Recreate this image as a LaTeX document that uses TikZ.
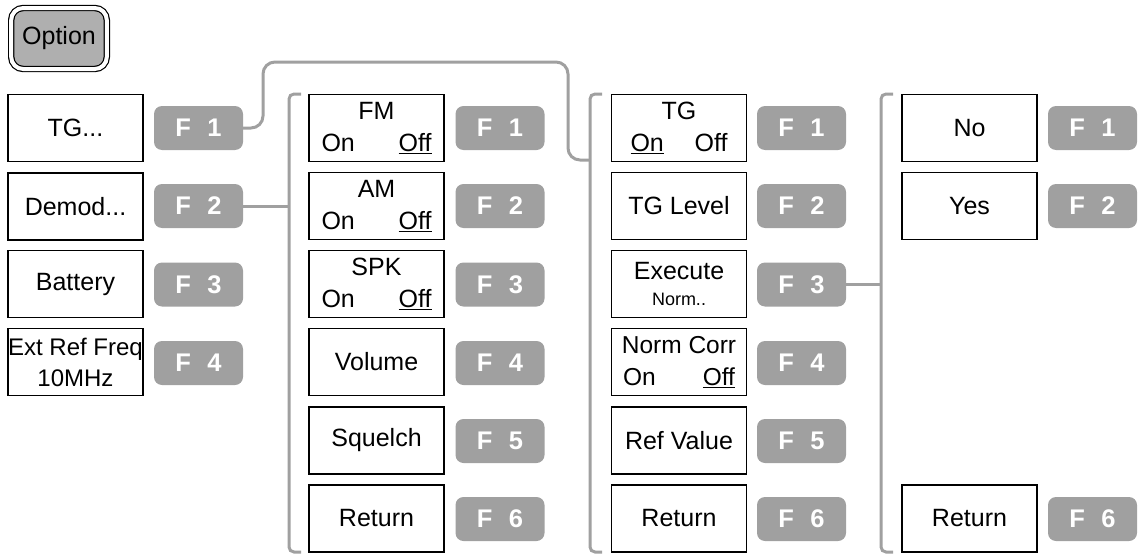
\documentclass[tikz,border=0pt]{standalone}
\usepackage{fontspec}
\setmainfont{Liberation Sans}
\definecolor{cgray}{RGB}{160,160,160}
\definecolor{optgray}{RGB}{175,175,175}
\tikzset{
  mbox/.style={draw=black, line width=1.3pt, minimum width=135pt, minimum height=67pt, inner sep=0pt, align=center, font=\fontsize{25}{32}\selectfont},
  fkey/.style={fill=cgray, rounded corners=8pt, minimum width=89pt, minimum height=44pt, inner sep=0pt, text=white, font=\fontsize{25.5}{28}\selectfont\bfseries},
  conn/.style={draw=cgray, line width=3pt, rounded corners=12pt},
  brk/.style={draw=cgray, line width=3pt, rounded corners=5pt},
}
\newcommand{\onoff}[2][110pt]{\makebox[#1]{#2}}
\newcommand{\fk}[1]{F\hspace{0.65em}#1}
\begin{document}
\begin{tikzpicture}[x=1pt,y=-1pt]
\useasboundingbox (0,0) rectangle (1138,554);
% Option key
\node[draw=black, line width=1.2pt, double=white, double distance=4pt, fill=optgray, rounded corners=12pt, minimum width=95.6pt, minimum height=61pt, inner sep=0pt, font=\fontsize{25}{28}\selectfont] (opt) at (59,38.5) {Option};
% column 1
\node[mbox] (a1) at (75.5,128) {TG...};
\node[mbox] (a2) at (75.5,206.5) {Demod...};
\node[mbox] (a3) at (75.5,284) {Battery};
\node[mbox, font=\fontsize{24}{31}\selectfont] (a4) at (75.5,362) {Ext Ref Freq\\10MHz};
\node[fkey] (fa1) at (198.5,128) {\fk{1}};
\node[fkey] (fa2) at (198.5,206) {\fk{2}};
\node[fkey] (fa3) at (198.5,284.5) {\fk{3}};
\node[fkey] (fa4) at (198.5,363) {\fk{4}};
% column 2
\node[mbox] (b1) at (376.5,128) {FM\\\onoff{On\hfill\underline{Off}}};
\node[mbox] (b2) at (376.5,206) {AM\\\onoff{On\hfill\underline{Off}}};
\node[mbox] (b3) at (376.5,284) {SPK\\\onoff{On\hfill\underline{Off}}};
\node[mbox] (b4) at (376.5,362) {Volume};
\node[mbox] (b5) at (376.5,440.5) {Squelch};
\node[mbox] (b6) at (376.5,518.5) {Return};
\node[fkey] (fb1) at (500,128) {\fk{1}};
\node[fkey] (fb2) at (500,206) {\fk{2}};
\node[fkey] (fb3) at (500,284.5) {\fk{3}};
\node[fkey] (fb4) at (500,363) {\fk{4}};
\node[fkey] (fb5) at (500,441) {\fk{5}};
\node[fkey] (fb6) at (500,519) {\fk{6}};
% column 3
\node[mbox] (c1) at (679,128) {TG\\\onoff[97pt]{\underline{On}\hfill Off}};
\node[mbox] (c2) at (679,206) {TG Level};
\node[mbox] (c3) at (679,284) {Execute\\[-6pt]{\fontsize{18}{22}\selectfont Norm..}};
\node[mbox, font=\fontsize{24.5}{32}\selectfont] (c4) at (679,362) {Norm Corr\\\onoff[112pt]{On\hfill\underline{Off}}};
\node[mbox] (c5) at (679,440.5) {Ref Value};
\node[mbox] (c6) at (679,518.5) {Return};
\node[fkey] (fc1) at (801.5,128) {\fk{1}};
\node[fkey] (fc2) at (801.5,206) {\fk{2}};
\node[fkey] (fc3) at (801.5,284.5) {\fk{3}};
\node[fkey] (fc4) at (801.5,363) {\fk{4}};
\node[fkey] (fc5) at (801.5,441) {\fk{5}};
\node[fkey] (fc6) at (801.5,519) {\fk{6}};
% column 4
\node[mbox] (d1) at (969.5,128) {No};
\node[mbox] (d2) at (969.5,206) {Yes};
\node[mbox] (d6) at (969.5,518.5) {Return};
\node[fkey] (fd1) at (1092.5,128) {\fk{1}};
\node[fkey] (fd2) at (1092.5,206) {\fk{2}};
\node[fkey] (fd6) at (1092.5,519) {\fk{6}};
% brackets
\coordinate (bt2) at (289,94); \coordinate (bb2) at (289,552);
\coordinate (bt3) at (590,94); \coordinate (bb3) at (590,552);
\coordinate (bt4) at (881,94); \coordinate (bb4) at (881,552);
\draw[brk] (301,94) -- (bt2) -- (bb2) -- (301,552);
\draw[brk] (602,94) -- (bt3) -- (bb3) -- (602,552);
\draw[brk] (893,94) -- (bt4) -- (bb4) -- (893,552);
% connectors
\coordinate (j3) at (590,160);
\draw[conn] (fa1.east) -- (263,128) -- (263,62) -- (568,62) -- (568,160) -- (j3);
\coordinate (j2) at (289,206);
\draw[conn] (fa2.east) -- (j2);
\coordinate (j4) at (881,284.5);
\draw[conn] (fc3.east) -- (j4);
\end{tikzpicture}
\end{document}
